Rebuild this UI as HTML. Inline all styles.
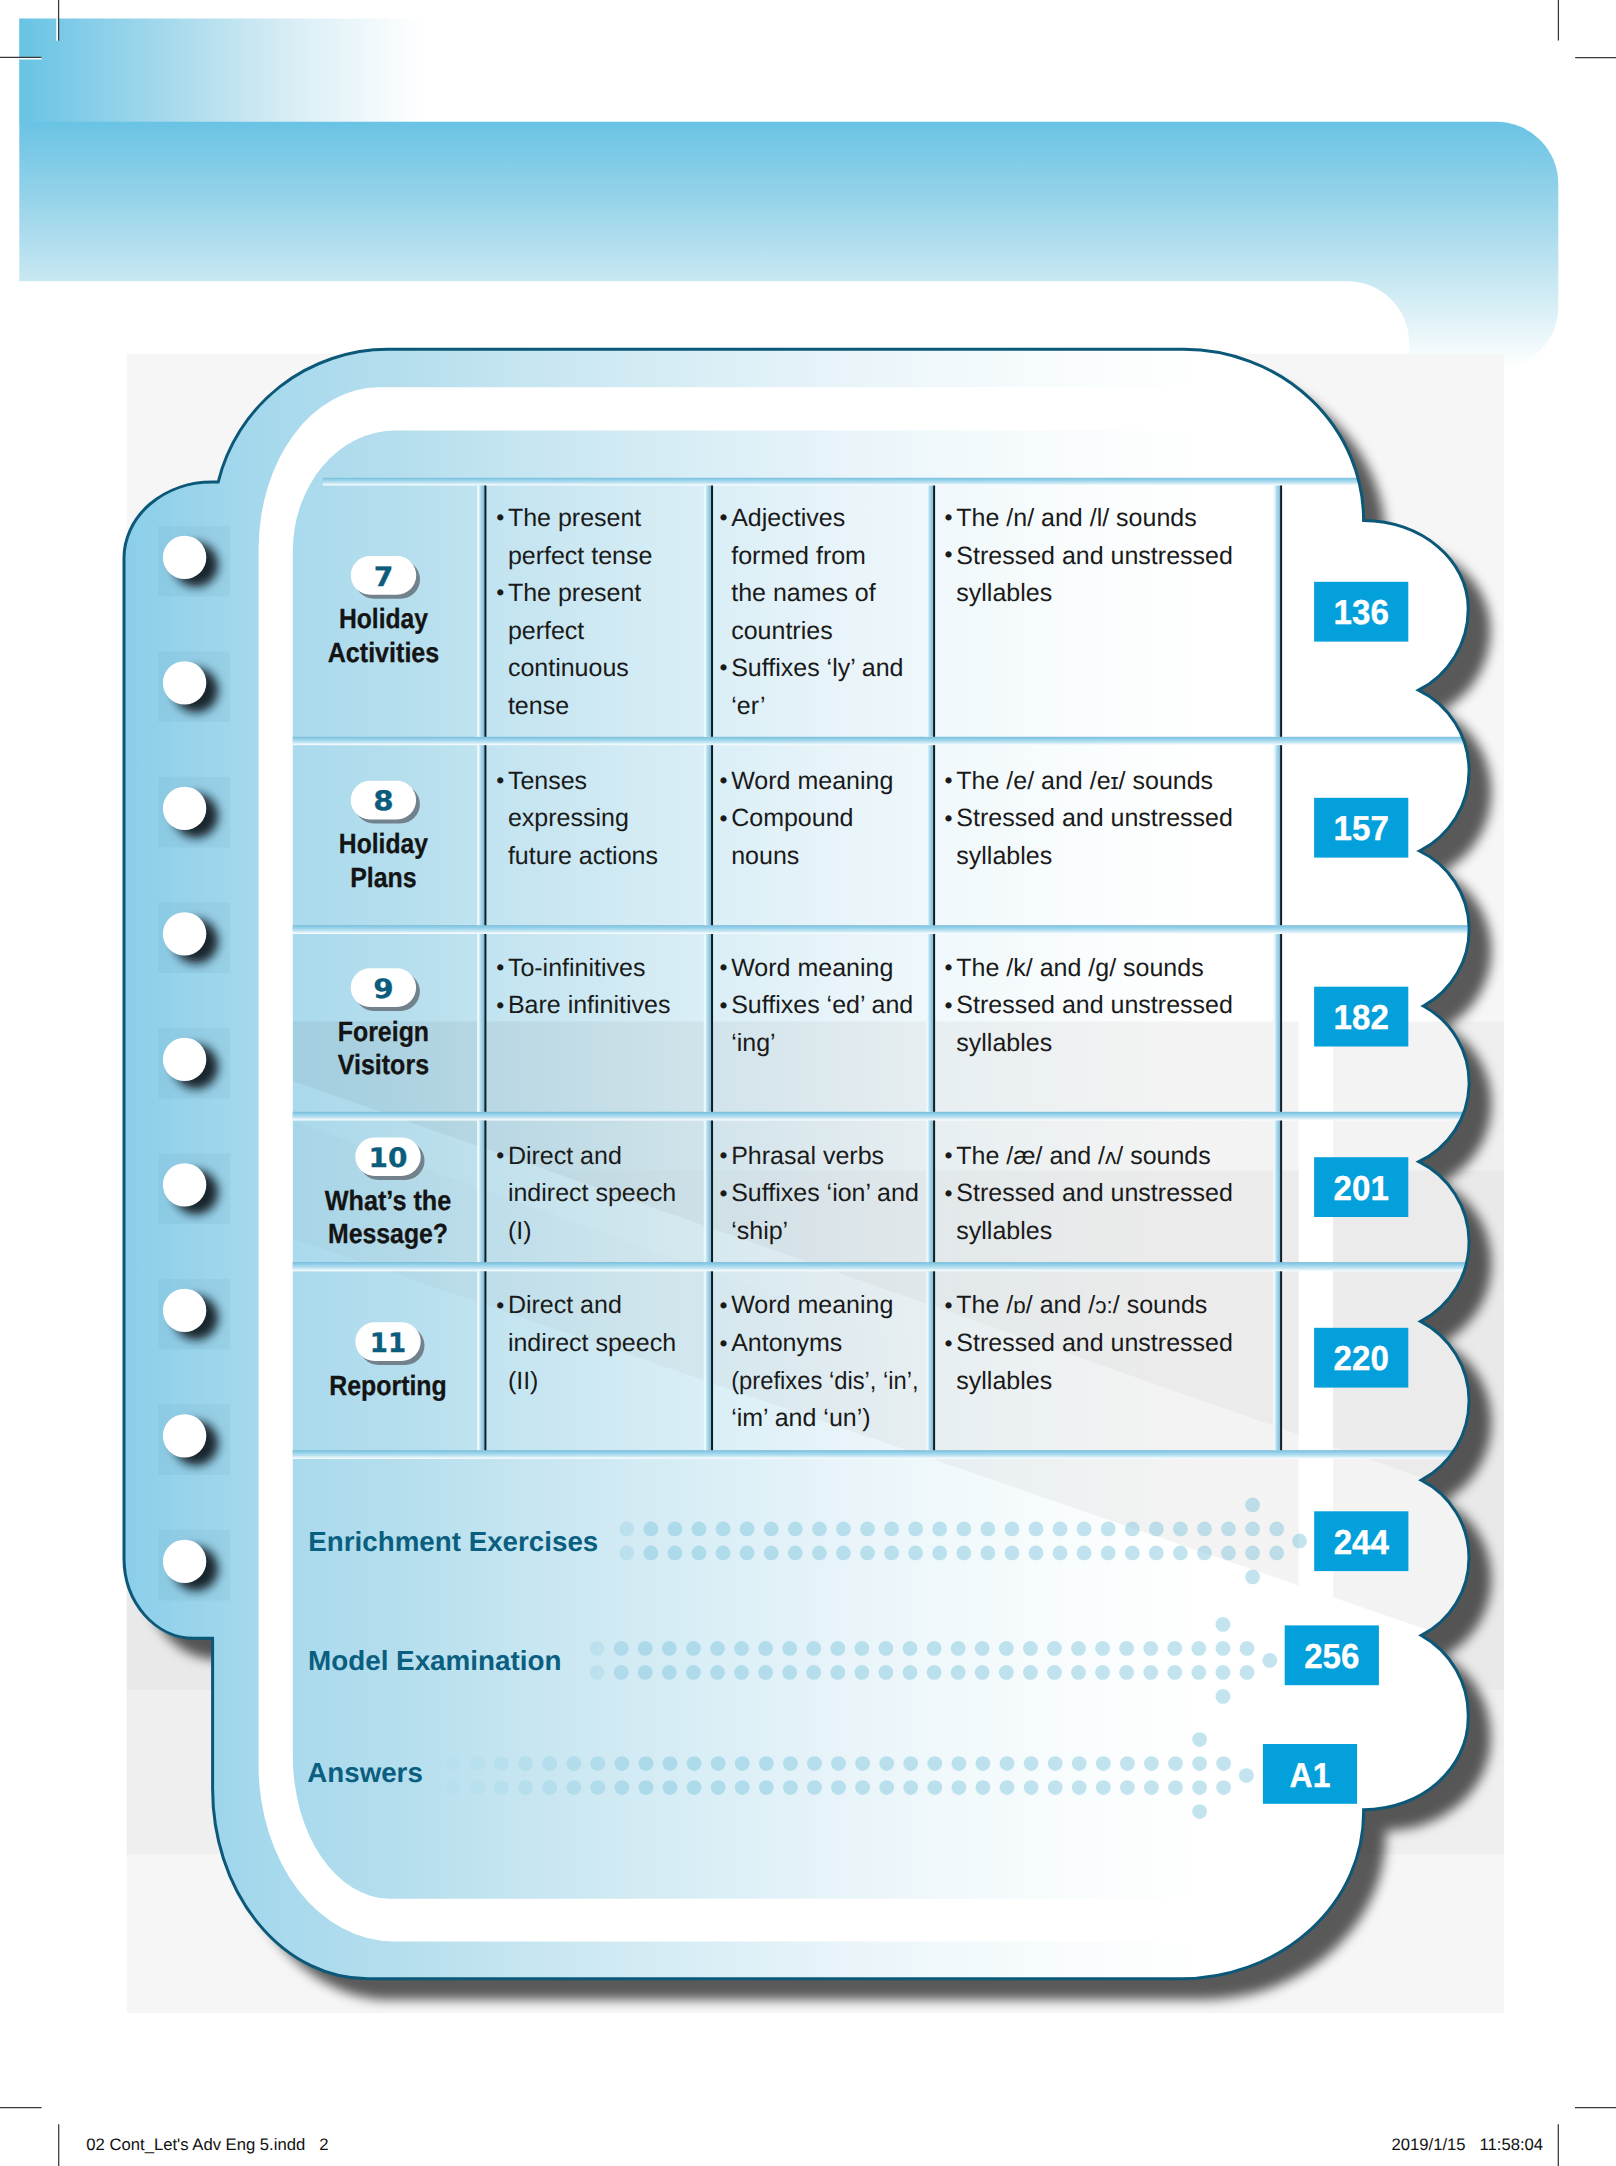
<!DOCTYPE html>
<html lang="en"><head><meta charset="utf-8"><title>Contents</title>
<style>
html,body{margin:0;padding:0;background:#fff;}
body{width:1616px;height:2166px;overflow:hidden;}
svg{display:block;}
text{font-family:"Liberation Sans",sans-serif;-webkit-font-smoothing:antialiased;text-rendering:geometricPrecision;}
.t{font-size:25px;fill:#1a1a1a;}
.b{font-weight:bold;}
.ttl{font-weight:bold;font-size:27.8px;fill:#141414;stroke:#141414;stroke-width:.3;text-anchor:middle;}
.num{font-family:"DejaVu Sans","Liberation Sans",sans-serif;font-weight:bold;font-size:26.8px;fill:#0b5c7d;stroke:#0b5c7d;stroke-width:.3;text-anchor:middle;}
.pg{font-weight:bold;font-size:34.6px;fill:#fff;stroke:#fff;stroke-width:.35;text-anchor:middle;}
.sec{font-weight:bold;font-size:27.7px;fill:#0a5f80;}
.ft{font-size:16.67px;fill:#111;white-space:pre;}
.ipa{font-size:22.5px;}
.bu{font-size:22.8px;fill:#1a1a1a;}
</style></head><body>
<svg width="1616" height="2166" viewBox="0 0 1616 2166">
<defs>
<linearGradient id="gTop" x1="0" y1="0" x2="1" y2="0"><stop offset="0" stop-color="#68c3e4"/><stop offset=".35" stop-color="#a3d8ec"/><stop offset=".7" stop-color="#dceff6"/><stop offset="1" stop-color="#ffffff"/></linearGradient>
<linearGradient id="gBan" x1="0" y1="0" x2="0" y2="1"><stop offset="0" stop-color="#69c3e4"/><stop offset=".33" stop-color="#99d4ea"/><stop offset=".645" stop-color="#c8e8f2"/><stop offset="1" stop-color="#ffffff"/></linearGradient>
<linearGradient id="gBody" gradientUnits="userSpaceOnUse" x1="124" y1="0" x2="1200" y2="0">
<stop offset="0.0000" stop-color="#8bceea"/><stop offset="0.1171" stop-color="#a4d8ec"/><stop offset="0.1636" stop-color="#aadaed"/><stop offset="0.2565" stop-color="#b5deed"/><stop offset="0.3309" stop-color="#c0e3f0"/><stop offset="0.4610" stop-color="#d1eaf3"/><stop offset="0.5353" stop-color="#d9eef6"/><stop offset="0.6654" stop-color="#e8f4f9"/><stop offset="0.7491" stop-color="#eff8fb"/><stop offset="0.8699" stop-color="#f8fcfd"/><stop offset="1.0000" stop-color="#ffffff"/></linearGradient>
<linearGradient id="gH" x1="0" y1="0" x2="0" y2="1"><stop offset="0" stop-color="#79b8d6"/><stop offset=".12" stop-color="#84c6e2"/><stop offset=".22" stop-color="#8ccde7"/><stop offset=".6" stop-color="#b9e1f1"/><stop offset="1" stop-color="#ffffff"/></linearGradient>
<linearGradient id="gV" x1="0" y1="0" x2="1" y2="0"><stop offset="0" stop-color="#eaf8fd" stop-opacity="0"/><stop offset=".1" stop-color="#eaf8fd" stop-opacity=".95"/><stop offset=".32" stop-color="#eaf8fd" stop-opacity=".95"/><stop offset=".42" stop-color="#bfe3f1"/><stop offset="1" stop-color="#7dbbd8"/></linearGradient>
<filter id="sh" x="-10%" y="-10%" width="125%" height="125%"><feGaussianBlur stdDeviation="5.6"/></filter>
<filter id="sh2" x="-50%" y="-50%" width="220%" height="220%"><feGaussianBlur stdDeviation="4.8"/></filter>
<clipPath id="cBody"><path d="M387.6,349.3 L1183.6,349.3 A180,171.2 0 0 1 1363.6,520.5 L1363.6,520.5 C1421.37058,520.5 1468.2,559.8976 1468.2,608.5 A91,91 0 0 1 1418.5,690.2 A89.6,89.6 0 0 1 1419.5,851.0 A86.9,86.9 0 0 1 1423.4,1006.0 A87.2,87.2 0 0 1 1418.8,1161.7 A89.3,89.3 0 0 1 1420.6,1321.4 A89.6,89.6 0 0 1 1421.3,1480.2 A87.0,87.0 0 0 1 1421.3,1635.4 A91,91 0 0 1 1468.2,1717.7 C1468.2,1768.5116 1421.37058,1809.7 1363.6,1809.7 L1363.6,1812.8 A183,166 0 0 1 1180.6,1978.8 L367.6,1978.8 A155,190 0 0 1 212.6,1788.8 L212.6,1638.3 L194,1638.3 A70,80 0 0 1 124.0,1558.3 L124.0,558 A88,76 0 0 1 212.0,482 L218.2,482 A175,174 0 0 1 387.6,349.3 Z"/></clipPath>
<clipPath id="cPanel"><rect x="126.5" y="353.5" width="1377.5" height="1660"/></clipPath>
<clipPath id="cInner"><path d="M395.8,430.4 L1195.6,430.4 A103,121 0 0 1 1298.6,551.4 L1298.6,1755.7 A97,143 0 0 1 1201.6,1898.7 L389.8,1898.7 A97,143 0 0 1 292.8,1755.7 L292.8,551.4 A103,121 0 0 1 395.8,430.4 Z"/></clipPath>
<clipPath id="cMain"><path d="M387.6,349.3 L1183.6,349.3 A180,171.2 0 0 1 1363.6,520.5 L1480,520.5 L1480,1812.8 L1363.6,1812.8 A183,166 0 0 1 1180.6,1978.8 L367.6,1978.8 A155,190 0 0 1 212.6,1788.8 L212.6,523.3 A175,174 0 0 1 387.6,349.3 Z"/></clipPath>
<linearGradient id="gOv" gradientUnits="userSpaceOnUse" x1="292" y1="0" x2="1290" y2="0">
<stop offset="0" stop-color="#a8a6a5" stop-opacity=".15"/><stop offset=".19" stop-color="#a8a6a5" stop-opacity=".32"/><stop offset=".41" stop-color="#a8a6a5" stop-opacity=".6"/><stop offset=".64" stop-color="#a8a6a5" stop-opacity=".85"/><stop offset=".81" stop-color="#a8a6a5" stop-opacity=".96"/><stop offset="1" stop-color="#a8a6a5" stop-opacity="1"/></linearGradient>
<linearGradient id="gOvL" gradientUnits="userSpaceOnUse" x1="292" y1="0" x2="950" y2="0"><stop offset="0" stop-color="#6f8590" stop-opacity="1"/><stop offset=".29" stop-color="#6f8590" stop-opacity=".8"/><stop offset=".62" stop-color="#6f8590" stop-opacity=".4"/><stop offset="1" stop-color="#6f8590" stop-opacity="0"/></linearGradient>
<clipPath id="cRight"><rect x="292.6" y="300" width="1300" height="1800"/></clipPath>
<linearGradient id="gDot" gradientUnits="objectBoundingBox" x1="0" y1="0" x2="1" y2="0"><stop offset="0" stop-color="#fff" stop-opacity="0"/><stop offset="1" stop-color="#fff" stop-opacity="1"/></linearGradient>
</defs>

<rect x="19.2" y="18.5" width="404" height="103.5" fill="url(#gTop)"/>
<path d="M19.3,121.8 L1496.3,121.8 A62,62 0 0 1 1558.3,183.8 L1558.3,307 A62,62 0 0 1 1496.3,369 L19.3,369 Z" fill="url(#gBan)"/>
<path d="M0,281.2 L1347,281.2 A62,62 0 0 1 1409.2,343.2 L1409.2,372 L0,372 Z" fill="#fff"/>
<g stroke="#fff" stroke-width="2.6" fill="none"><path d="M57.6,18.5V40.8M19.2,58.2H41.6"/></g>
<g stroke="#383838" stroke-width="1.25" fill="none"><path d="M58.6,0V40.8M0,57.3H41.6M1558.4,0V40.5M1575.2,57.5H1616M0,2107.5H41.6M58.7,2124.3V2166M1558.3,2124.3V2166M1575,2107.5H1616"/></g>
<g clip-path="url(#cPanel)">
<rect x="126.5" y="353.5" width="1377.5" height="1660" fill="#f6f6f6"/>
<rect x="126.5" y="1021.5" width="1377.5" height="149" fill="#efefef"/>
<rect x="126.5" y="1170.5" width="1377.5" height="520" fill="#e9e9e9"/>
<rect x="126.5" y="1690.5" width="1377.5" height="164" fill="#efefef"/>
</g>
<g clip-path="url(#cPanel)"><path d="M387.6,349.3 L1183.6,349.3 A180,171.2 0 0 1 1363.6,520.5 L1363.6,520.5 C1421.37058,520.5 1468.2,559.8976 1468.2,608.5 A91,91 0 0 1 1418.5,690.2 A89.6,89.6 0 0 1 1419.5,851.0 A86.9,86.9 0 0 1 1423.4,1006.0 A87.2,87.2 0 0 1 1418.8,1161.7 A89.3,89.3 0 0 1 1420.6,1321.4 A89.6,89.6 0 0 1 1421.3,1480.2 A87.0,87.0 0 0 1 1421.3,1635.4 A91,91 0 0 1 1468.2,1717.7 C1468.2,1768.5116 1421.37058,1809.7 1363.6,1809.7 L1363.6,1812.8 A183,166 0 0 1 1180.6,1978.8 L367.6,1978.8 A155,190 0 0 1 212.6,1788.8 L212.6,1638.3 L194,1638.3 A70,80 0 0 1 124.0,1558.3 L124.0,558 A88,76 0 0 1 212.0,482 L218.2,482 A175,174 0 0 1 387.6,349.3 Z" transform="translate(22.3,21)" fill="#050304" fill-opacity=".64" filter="url(#sh)"/></g>
<path d="M387.6,349.3 L1183.6,349.3 A180,171.2 0 0 1 1363.6,520.5 L1363.6,520.5 C1421.37058,520.5 1468.2,559.8976 1468.2,608.5 A91,91 0 0 1 1418.5,690.2 A89.6,89.6 0 0 1 1419.5,851.0 A86.9,86.9 0 0 1 1423.4,1006.0 A87.2,87.2 0 0 1 1418.8,1161.7 A89.3,89.3 0 0 1 1420.6,1321.4 A89.6,89.6 0 0 1 1421.3,1480.2 A87.0,87.0 0 0 1 1421.3,1635.4 A91,91 0 0 1 1468.2,1717.7 C1468.2,1768.5116 1421.37058,1809.7 1363.6,1809.7 L1363.6,1812.8 A183,166 0 0 1 1180.6,1978.8 L367.6,1978.8 A155,190 0 0 1 212.6,1788.8 L212.6,1638.3 L194,1638.3 A70,80 0 0 1 124.0,1558.3 L124.0,558 A88,76 0 0 1 212.0,482 L218.2,482 A175,174 0 0 1 387.6,349.3 Z" fill="url(#gBody)"/>
<g clip-path="url(#cBody)"><g clip-path="url(#cRight)">
<polygon points="120,1021.5 1520,1021.5 1520,1661.8 120,1178.8" fill="url(#gOv)" fill-opacity=".135"/>
<polygon points="547.4,1170.5 1520,1170.5 1520,1512.5" fill="url(#gOv)" fill-opacity=".10"/>
<polygon points="120,1021.5 1000,1021.5 1000,1329.6 120,1020.2" fill="url(#gOvL)" fill-opacity=".13"/>
<polygon points="120,1058.6 1000,1375.4 1000,1482.4 120,1178.8" fill="url(#gOvL)" fill-opacity=".045"/>
</g></g>
<path d="M378.6,387.3 L1213.1,387.3 A120,162 0 0 1 1333.1,549.3 L1333.1,1765.5 A135,176 0 0 1 1198.1,1941.5 L393.6,1941.5 A135,176 0 0 1 258.6,1765.5 L258.6,549.3 A120,162 0 0 1 378.6,387.3 Z M395.8,430.4 L1195.6,430.4 A103,121 0 0 1 1298.6,551.4 L1298.6,1755.7 A97,143 0 0 1 1201.6,1898.7 L389.8,1898.7 A97,143 0 0 1 292.8,1755.7 L292.8,551.4 A103,121 0 0 1 395.8,430.4 Z" fill="#fff" fill-rule="evenodd"/>
<rect x="158.6" y="525.9" width="71.2" height="70.6" fill="#1a4a6a" fill-opacity=".05"/>
<circle cx="195.9" cy="564.7" r="22.3" fill="#10181e" fill-opacity=".92" filter="url(#sh2)"/>
<circle cx="184.6" cy="557.4" r="21.7" fill="#fff"/>
<rect x="158.6" y="651.4" width="71.2" height="70.6" fill="#1a4a6a" fill-opacity=".05"/>
<circle cx="195.9" cy="690.2" r="22.3" fill="#10181e" fill-opacity=".92" filter="url(#sh2)"/>
<circle cx="184.6" cy="682.9" r="21.7" fill="#fff"/>
<rect x="158.6" y="776.9" width="71.2" height="70.6" fill="#1a4a6a" fill-opacity=".05"/>
<circle cx="195.9" cy="815.7" r="22.3" fill="#10181e" fill-opacity=".92" filter="url(#sh2)"/>
<circle cx="184.6" cy="808.4" r="21.7" fill="#fff"/>
<rect x="158.6" y="902.4" width="71.2" height="70.6" fill="#1a4a6a" fill-opacity=".05"/>
<circle cx="195.9" cy="941.2" r="22.3" fill="#10181e" fill-opacity=".92" filter="url(#sh2)"/>
<circle cx="184.6" cy="933.9" r="21.7" fill="#fff"/>
<rect x="158.6" y="1027.9" width="71.2" height="70.6" fill="#1a4a6a" fill-opacity=".05"/>
<circle cx="195.9" cy="1066.7" r="22.3" fill="#10181e" fill-opacity=".92" filter="url(#sh2)"/>
<circle cx="184.6" cy="1059.4" r="21.7" fill="#fff"/>
<rect x="158.6" y="1153.4" width="71.2" height="70.6" fill="#1a4a6a" fill-opacity=".05"/>
<circle cx="195.9" cy="1192.2" r="22.3" fill="#10181e" fill-opacity=".92" filter="url(#sh2)"/>
<circle cx="184.6" cy="1184.9" r="21.7" fill="#fff"/>
<rect x="158.6" y="1278.9" width="71.2" height="70.6" fill="#1a4a6a" fill-opacity=".05"/>
<circle cx="195.9" cy="1317.7" r="22.3" fill="#10181e" fill-opacity=".92" filter="url(#sh2)"/>
<circle cx="184.6" cy="1310.4" r="21.7" fill="#fff"/>
<rect x="158.6" y="1404.4" width="71.2" height="70.6" fill="#1a4a6a" fill-opacity=".05"/>
<circle cx="195.9" cy="1443.2" r="22.3" fill="#10181e" fill-opacity=".92" filter="url(#sh2)"/>
<circle cx="184.6" cy="1435.9" r="21.7" fill="#fff"/>
<rect x="158.6" y="1529.9" width="71.2" height="70.6" fill="#1a4a6a" fill-opacity=".05"/>
<circle cx="195.9" cy="1568.7" r="22.3" fill="#10181e" fill-opacity=".92" filter="url(#sh2)"/>
<circle cx="184.6" cy="1561.4" r="21.7" fill="#fff"/>
<g clip-path="url(#cBody)">
<rect x="322.8" y="477.8" width="1177.2" height="7.7" fill="url(#gH)"/>
<rect x="292.6" y="736.8" width="1207.4" height="8.4" fill="url(#gH)"/>
<rect x="292.6" y="925.2" width="1207.4" height="8.8" fill="url(#gH)"/>
<rect x="292.6" y="1111.8" width="1207.4" height="8.7" fill="url(#gH)"/>
<rect x="292.6" y="1262.1" width="1207.4" height="9.2" fill="url(#gH)"/>
<rect x="292.6" y="1450.2" width="1207.4" height="8.7" fill="url(#gH)"/>
</g>
<rect x="476.6" y="485.5" width="7.8" height="251.3" fill="url(#gV)"/>
<rect x="484.40" y="485.5" width="2.0" height="251.3" fill="#0e1c25"/>
<rect x="703.3" y="485.5" width="7.8" height="251.3" fill="url(#gV)"/>
<rect x="711.05" y="485.5" width="2.0" height="251.3" fill="#0e1c25"/>
<rect x="925.6" y="485.5" width="7.6" height="251.3" fill="url(#gV)"/>
<rect x="933.10" y="485.5" width="2.0" height="251.3" fill="#0e1c25"/>
<rect x="1272.5" y="485.5" width="7.7" height="251.3" fill="url(#gV)"/>
<rect x="1280.10" y="485.5" width="2.0" height="251.3" fill="#0e1c25"/>
<rect x="476.6" y="745.2" width="7.8" height="180.0" fill="url(#gV)"/>
<rect x="484.40" y="745.2" width="2.0" height="180.0" fill="#0e1c25"/>
<rect x="703.3" y="745.2" width="7.8" height="180.0" fill="url(#gV)"/>
<rect x="711.05" y="745.2" width="2.0" height="180.0" fill="#0e1c25"/>
<rect x="925.6" y="745.2" width="7.6" height="180.0" fill="url(#gV)"/>
<rect x="933.10" y="745.2" width="2.0" height="180.0" fill="#0e1c25"/>
<rect x="1272.5" y="745.2" width="7.7" height="180.0" fill="url(#gV)"/>
<rect x="1280.10" y="745.2" width="2.0" height="180.0" fill="#0e1c25"/>
<rect x="476.6" y="934.0" width="7.8" height="177.8" fill="url(#gV)"/>
<rect x="484.40" y="934.0" width="2.0" height="177.8" fill="#0e1c25"/>
<rect x="703.3" y="934.0" width="7.8" height="177.8" fill="url(#gV)"/>
<rect x="711.05" y="934.0" width="2.0" height="177.8" fill="#0e1c25"/>
<rect x="925.6" y="934.0" width="7.6" height="177.8" fill="url(#gV)"/>
<rect x="933.10" y="934.0" width="2.0" height="177.8" fill="#0e1c25"/>
<rect x="1272.5" y="934.0" width="7.7" height="177.8" fill="url(#gV)"/>
<rect x="1280.10" y="934.0" width="2.0" height="177.8" fill="#0e1c25"/>
<rect x="476.6" y="1120.5" width="7.8" height="141.6" fill="url(#gV)"/>
<rect x="484.40" y="1120.5" width="2.0" height="141.6" fill="#0e1c25"/>
<rect x="703.3" y="1120.5" width="7.8" height="141.6" fill="url(#gV)"/>
<rect x="711.05" y="1120.5" width="2.0" height="141.6" fill="#0e1c25"/>
<rect x="925.6" y="1120.5" width="7.6" height="141.6" fill="url(#gV)"/>
<rect x="933.10" y="1120.5" width="2.0" height="141.6" fill="#0e1c25"/>
<rect x="1272.5" y="1120.5" width="7.7" height="141.6" fill="url(#gV)"/>
<rect x="1280.10" y="1120.5" width="2.0" height="141.6" fill="#0e1c25"/>
<rect x="476.6" y="1271.3" width="7.8" height="178.9" fill="url(#gV)"/>
<rect x="484.40" y="1271.3" width="2.0" height="178.9" fill="#0e1c25"/>
<rect x="703.3" y="1271.3" width="7.8" height="178.9" fill="url(#gV)"/>
<rect x="711.05" y="1271.3" width="2.0" height="178.9" fill="#0e1c25"/>
<rect x="925.6" y="1271.3" width="7.6" height="178.9" fill="url(#gV)"/>
<rect x="933.10" y="1271.3" width="2.0" height="178.9" fill="#0e1c25"/>
<rect x="1272.5" y="1271.3" width="7.7" height="178.9" fill="url(#gV)"/>
<rect x="1280.10" y="1271.3" width="2.0" height="178.9" fill="#0e1c25"/>
<rect x="354.6" y="560.1" width="65.4" height="38.6" rx="19.3" fill="#72828c"/>
<rect x="350.8" y="556.1" width="65.4" height="38.6" rx="19.3" fill="#fff"/>
<text class="num" x="383.5" y="585.5" textLength="19.6" lengthAdjust="spacingAndGlyphs">7</text>
<text class="ttl" x="383.5" y="627.8" textLength="89.1" lengthAdjust="spacingAndGlyphs">Holiday</text>
<text class="ttl" x="383.5" y="662.0" textLength="111.5" lengthAdjust="spacingAndGlyphs">Activities</text>
<rect x="354.5" y="784.8" width="65.4" height="38.6" rx="19.3" fill="#72828c"/>
<rect x="350.7" y="780.8" width="65.4" height="38.6" rx="19.3" fill="#fff"/>
<text class="num" x="383.4" y="810.2" textLength="20.4" lengthAdjust="spacingAndGlyphs">8</text>
<text class="ttl" x="383.4" y="853.4" textLength="89.1" lengthAdjust="spacingAndGlyphs">Holiday</text>
<text class="ttl" x="383.4" y="886.8" textLength="66.5" lengthAdjust="spacingAndGlyphs">Plans</text>
<rect x="354.5" y="972.3" width="65.4" height="38.6" rx="19.3" fill="#72828c"/>
<rect x="350.7" y="968.3" width="65.4" height="38.6" rx="19.3" fill="#fff"/>
<text class="num" x="383.4" y="997.7" textLength="20.4" lengthAdjust="spacingAndGlyphs">9</text>
<text class="ttl" x="383.4" y="1041.0" textLength="91.3" lengthAdjust="spacingAndGlyphs">Foreign</text>
<text class="ttl" x="383.4" y="1073.7" textLength="91.3" lengthAdjust="spacingAndGlyphs">Visitors</text>
<rect x="359.1" y="1141.4" width="65.4" height="38.6" rx="19.3" fill="#72828c"/>
<rect x="355.3" y="1137.4" width="65.4" height="38.6" rx="19.3" fill="#fff"/>
<text class="num" x="388.0" y="1166.8" textLength="38.9" lengthAdjust="spacingAndGlyphs">10</text>
<text class="ttl" x="388.0" y="1209.7" textLength="126.5" lengthAdjust="spacingAndGlyphs">What’s the</text>
<text class="ttl" x="388.0" y="1243.1" textLength="120.1" lengthAdjust="spacingAndGlyphs">Message?</text>
<rect x="359.1" y="1326.3" width="65.4" height="38.6" rx="19.3" fill="#72828c"/>
<rect x="355.3" y="1322.3" width="65.4" height="38.6" rx="19.3" fill="#fff"/>
<text class="num" x="388.0" y="1351.7" textLength="36.3" lengthAdjust="spacingAndGlyphs">11</text>
<text class="ttl" x="388.0" y="1395.4" textLength="117.5" lengthAdjust="spacingAndGlyphs">Reporting</text>
<text class="bu" x="496.3" y="524.8">•</text>
<text class="t" x="507.9" y="526.2">The present</text>
<text class="t" x="507.9" y="563.8">perfect tense</text>
<text class="bu" x="496.3" y="599.9">•</text>
<text class="t" x="507.9" y="601.3">The present</text>
<text class="t" x="507.9" y="638.9">perfect</text>
<text class="t" x="507.9" y="676.4">continuous</text>
<text class="t" x="507.9" y="714.0">tense</text>
<text class="bu" x="719.5999999999999" y="524.8">•</text>
<text class="t" x="731.2" y="526.2">Adjectives</text>
<text class="t" x="731.2" y="563.8">formed from</text>
<text class="t" x="731.2" y="601.3">the names of</text>
<text class="t" x="731.2" y="638.9">countries</text>
<text class="bu" x="719.5999999999999" y="675.0">•</text>
<text class="t" x="731.2" y="676.4">Suffixes ‘ly’ and</text>
<text class="t" x="731.2" y="714.0">‘er’</text>
<text class="bu" x="944.5" y="524.8">•</text>
<text class="t" x="956.3" y="526.2">The /n/ and /l/ sounds</text>
<text class="bu" x="944.5" y="562.4">•</text>
<text class="t" x="956.3" y="563.8">Stressed and unstressed</text>
<text class="t" x="956.3" y="601.3">syllables</text>
<text class="bu" x="496.3" y="788.0">•</text>
<text class="t" x="507.9" y="788.5">Tenses</text>
<text class="t" x="507.9" y="826.0">expressing</text>
<text class="t" x="507.9" y="863.6">future actions</text>
<text class="bu" x="719.5999999999999" y="788.0">•</text>
<text class="t" x="731.2" y="788.5">Word meaning</text>
<text class="bu" x="719.5999999999999" y="825.5">•</text>
<text class="t" x="731.2" y="826.0">Compound</text>
<text class="t" x="731.2" y="863.6">nouns</text>
<text class="bu" x="944.5" y="788.0">•</text>
<text class="t" x="956.3" y="788.5">The /e/ and /e<tspan class="ipa">ɪ</tspan>/ sounds</text>
<text class="bu" x="944.5" y="825.5">•</text>
<text class="t" x="956.3" y="826.0">Stressed and unstressed</text>
<text class="t" x="956.3" y="863.6">syllables</text>
<text class="bu" x="496.3" y="975.1">•</text>
<text class="t" x="507.9" y="975.6">To-infinitives</text>
<text class="bu" x="496.3" y="1012.6">•</text>
<text class="t" x="507.9" y="1013.1">Bare infinitives</text>
<text class="bu" x="719.5999999999999" y="975.1">•</text>
<text class="t" x="731.2" y="975.6">Word meaning</text>
<text class="bu" x="719.5999999999999" y="1012.6">•</text>
<text class="t" x="731.2" y="1013.1">Suffixes ‘ed’ and</text>
<text class="t" x="731.2" y="1050.7">‘ing’</text>
<text class="bu" x="944.5" y="975.1">•</text>
<text class="t" x="956.3" y="975.6">The /k/ and /g/ sounds</text>
<text class="bu" x="944.5" y="1012.6">•</text>
<text class="t" x="956.3" y="1013.1">Stressed and unstressed</text>
<text class="t" x="956.3" y="1050.7">syllables</text>
<text class="bu" x="496.3" y="1163.1">•</text>
<text class="t" x="507.9" y="1163.6">Direct and</text>
<text class="t" x="507.9" y="1201.1">indirect speech</text>
<text class="t" x="507.9" y="1238.7">(I)</text>
<text class="bu" x="719.5999999999999" y="1163.1">•</text>
<text class="t" x="731.2" y="1163.6">Phrasal verbs</text>
<text class="bu" x="719.5999999999999" y="1200.6">•</text>
<text class="t" x="731.2" y="1201.1">Suffixes ‘ion’ and</text>
<text class="t" x="731.2" y="1238.7">‘ship’</text>
<text class="bu" x="944.5" y="1163.1">•</text>
<text class="t" x="956.3" y="1163.6">The /æ/ and /<tspan class="ipa">ʌ</tspan>/ sounds</text>
<text class="bu" x="944.5" y="1200.6">•</text>
<text class="t" x="956.3" y="1201.1">Stressed and unstressed</text>
<text class="t" x="956.3" y="1238.7">syllables</text>
<text class="bu" x="496.3" y="1312.9">•</text>
<text class="t" x="507.9" y="1313.4">Direct and</text>
<text class="t" x="507.9" y="1351.0">indirect speech</text>
<text class="t" x="507.9" y="1388.5">(II)</text>
<text class="bu" x="719.5999999999999" y="1312.9">•</text>
<text class="t" x="731.2" y="1313.4">Word meaning</text>
<text class="bu" x="719.5999999999999" y="1350.5">•</text>
<text class="t" x="731.2" y="1351.0">Antonyms</text>
<text class="t" x="731.2" y="1388.5" textLength="187.5" lengthAdjust="spacingAndGlyphs">(prefixes ‘dis’, ‘in’,</text>
<text class="t" x="731.2" y="1426.1">‘im’ and ‘un’)</text>
<text class="bu" x="944.5" y="1312.9">•</text>
<text class="t" x="956.3" y="1313.4">The /<tspan class="ipa">ɒ</tspan>/ and /<tspan class="ipa">ɔ:</tspan>/ sounds</text>
<text class="bu" x="944.5" y="1350.5">•</text>
<text class="t" x="956.3" y="1351.0">Stressed and unstressed</text>
<text class="t" x="956.3" y="1388.5">syllables</text>
<rect x="1314.1" y="581.8" width="94.2" height="59.8" fill="#04a0db"/>
<text class="pg" x="1361.2" y="624.3" textLength="55.2" lengthAdjust="spacingAndGlyphs">136</text>
<rect x="1314.1" y="797.8" width="94.2" height="59.8" fill="#04a0db"/>
<text class="pg" x="1361.2" y="840.3" textLength="55.2" lengthAdjust="spacingAndGlyphs">157</text>
<rect x="1314.1" y="986.7" width="94.2" height="59.8" fill="#04a0db"/>
<text class="pg" x="1361.2" y="1029.2" textLength="55.2" lengthAdjust="spacingAndGlyphs">182</text>
<rect x="1314.1" y="1157.2" width="94.2" height="59.8" fill="#04a0db"/>
<text class="pg" x="1361.2" y="1199.7" textLength="55.2" lengthAdjust="spacingAndGlyphs">201</text>
<rect x="1314.1" y="1327.8" width="94.2" height="59.8" fill="#04a0db"/>
<text class="pg" x="1361.2" y="1370.3" textLength="55.2" lengthAdjust="spacingAndGlyphs">220</text>
<rect x="1314.2" y="1511.3" width="94.2" height="59.8" fill="#04a0db"/>
<text class="pg" x="1361.3" y="1553.8" textLength="55.2" lengthAdjust="spacingAndGlyphs">244</text>
<rect x="1284.7" y="1625.4" width="94.2" height="59.8" fill="#04a0db"/>
<text class="pg" x="1331.8" y="1667.9" textLength="55.2" lengthAdjust="spacingAndGlyphs">256</text>
<rect x="1262.9" y="1744.0" width="94.2" height="59.8" fill="#04a0db"/>
<text class="pg" x="1310.0" y="1786.5" textLength="40.8" lengthAdjust="spacingAndGlyphs">A1</text>
<text class="sec" x="308.3" y="1550.8" textLength="290" lengthAdjust="spacingAndGlyphs">Enrichment Exercises</text>
<text class="sec" x="308.0" y="1670.2" textLength="253.5" lengthAdjust="spacingAndGlyphs">Model Examination</text>
<text class="sec" x="307.3" y="1781.8" textLength="115.5" lengthAdjust="spacingAndGlyphs">Answers</text>
<circle cx="626.8" cy="1528.9" r="7.4" fill="#7cc4dd" fill-opacity="0.25"/>
<circle cx="626.8" cy="1552.9" r="7.4" fill="#7cc4dd" fill-opacity="0.25"/>
<circle cx="650.9" cy="1528.9" r="7.4" fill="#7cc4dd" fill-opacity="0.46"/>
<circle cx="650.9" cy="1552.9" r="7.4" fill="#7cc4dd" fill-opacity="0.46"/>
<circle cx="674.9" cy="1528.9" r="7.4" fill="#7cc4dd" fill-opacity="0.46"/>
<circle cx="674.9" cy="1552.9" r="7.4" fill="#7cc4dd" fill-opacity="0.46"/>
<circle cx="699.0" cy="1528.9" r="7.4" fill="#7cc4dd" fill-opacity="0.46"/>
<circle cx="699.0" cy="1552.9" r="7.4" fill="#7cc4dd" fill-opacity="0.46"/>
<circle cx="723.1" cy="1528.9" r="7.4" fill="#7cc4dd" fill-opacity="0.46"/>
<circle cx="723.1" cy="1552.9" r="7.4" fill="#7cc4dd" fill-opacity="0.46"/>
<circle cx="747.1" cy="1528.9" r="7.4" fill="#7cc4dd" fill-opacity="0.46"/>
<circle cx="747.1" cy="1552.9" r="7.4" fill="#7cc4dd" fill-opacity="0.46"/>
<circle cx="771.2" cy="1528.9" r="7.4" fill="#7cc4dd" fill-opacity="0.46"/>
<circle cx="771.2" cy="1552.9" r="7.4" fill="#7cc4dd" fill-opacity="0.46"/>
<circle cx="795.3" cy="1528.9" r="7.4" fill="#7cc4dd" fill-opacity="0.46"/>
<circle cx="795.3" cy="1552.9" r="7.4" fill="#7cc4dd" fill-opacity="0.46"/>
<circle cx="819.4" cy="1528.9" r="7.4" fill="#7cc4dd" fill-opacity="0.46"/>
<circle cx="819.4" cy="1552.9" r="7.4" fill="#7cc4dd" fill-opacity="0.46"/>
<circle cx="843.4" cy="1528.9" r="7.4" fill="#7cc4dd" fill-opacity="0.46"/>
<circle cx="843.4" cy="1552.9" r="7.4" fill="#7cc4dd" fill-opacity="0.46"/>
<circle cx="867.5" cy="1528.9" r="7.4" fill="#7cc4dd" fill-opacity="0.46"/>
<circle cx="867.5" cy="1552.9" r="7.4" fill="#7cc4dd" fill-opacity="0.46"/>
<circle cx="891.6" cy="1528.9" r="7.4" fill="#7cc4dd" fill-opacity="0.46"/>
<circle cx="891.6" cy="1552.9" r="7.4" fill="#7cc4dd" fill-opacity="0.46"/>
<circle cx="915.6" cy="1528.9" r="7.4" fill="#7cc4dd" fill-opacity="0.46"/>
<circle cx="915.6" cy="1552.9" r="7.4" fill="#7cc4dd" fill-opacity="0.46"/>
<circle cx="939.7" cy="1528.9" r="7.4" fill="#7cc4dd" fill-opacity="0.46"/>
<circle cx="939.7" cy="1552.9" r="7.4" fill="#7cc4dd" fill-opacity="0.46"/>
<circle cx="963.8" cy="1528.9" r="7.4" fill="#7cc4dd" fill-opacity="0.46"/>
<circle cx="963.8" cy="1552.9" r="7.4" fill="#7cc4dd" fill-opacity="0.46"/>
<circle cx="987.8" cy="1528.9" r="7.4" fill="#7cc4dd" fill-opacity="0.46"/>
<circle cx="987.8" cy="1552.9" r="7.4" fill="#7cc4dd" fill-opacity="0.46"/>
<circle cx="1011.9" cy="1528.9" r="7.4" fill="#7cc4dd" fill-opacity="0.46"/>
<circle cx="1011.9" cy="1552.9" r="7.4" fill="#7cc4dd" fill-opacity="0.46"/>
<circle cx="1036.0" cy="1528.9" r="7.4" fill="#7cc4dd" fill-opacity="0.46"/>
<circle cx="1036.0" cy="1552.9" r="7.4" fill="#7cc4dd" fill-opacity="0.46"/>
<circle cx="1060.1" cy="1528.9" r="7.4" fill="#7cc4dd" fill-opacity="0.46"/>
<circle cx="1060.1" cy="1552.9" r="7.4" fill="#7cc4dd" fill-opacity="0.46"/>
<circle cx="1084.1" cy="1528.9" r="7.4" fill="#7cc4dd" fill-opacity="0.46"/>
<circle cx="1084.1" cy="1552.9" r="7.4" fill="#7cc4dd" fill-opacity="0.46"/>
<circle cx="1108.2" cy="1528.9" r="7.4" fill="#7cc4dd" fill-opacity="0.46"/>
<circle cx="1108.2" cy="1552.9" r="7.4" fill="#7cc4dd" fill-opacity="0.46"/>
<circle cx="1132.3" cy="1528.9" r="7.4" fill="#7cc4dd" fill-opacity="0.46"/>
<circle cx="1132.3" cy="1552.9" r="7.4" fill="#7cc4dd" fill-opacity="0.46"/>
<circle cx="1156.3" cy="1528.9" r="7.4" fill="#7cc4dd" fill-opacity="0.46"/>
<circle cx="1156.3" cy="1552.9" r="7.4" fill="#7cc4dd" fill-opacity="0.46"/>
<circle cx="1180.4" cy="1528.9" r="7.4" fill="#7cc4dd" fill-opacity="0.46"/>
<circle cx="1180.4" cy="1552.9" r="7.4" fill="#7cc4dd" fill-opacity="0.46"/>
<circle cx="1204.5" cy="1528.9" r="7.4" fill="#7cc4dd" fill-opacity="0.46"/>
<circle cx="1204.5" cy="1552.9" r="7.4" fill="#7cc4dd" fill-opacity="0.46"/>
<circle cx="1228.5" cy="1528.9" r="7.4" fill="#7cc4dd" fill-opacity="0.46"/>
<circle cx="1228.5" cy="1552.9" r="7.4" fill="#7cc4dd" fill-opacity="0.46"/>
<circle cx="1252.6" cy="1528.9" r="7.4" fill="#7cc4dd" fill-opacity="0.46"/>
<circle cx="1252.6" cy="1552.9" r="7.4" fill="#7cc4dd" fill-opacity="0.46"/>
<circle cx="1276.7" cy="1528.9" r="7.4" fill="#7cc4dd" fill-opacity="0.46"/>
<circle cx="1276.7" cy="1552.9" r="7.4" fill="#7cc4dd" fill-opacity="0.46"/>
<circle cx="1252.6" cy="1504.9" r="7.4" fill="#7cc4dd" fill-opacity=".46"/>
<circle cx="1252.6" cy="1576.9" r="7.4" fill="#7cc4dd" fill-opacity=".46"/>
<circle cx="1299.5" cy="1540.9" r="7.4" fill="#7cc4dd" fill-opacity=".46"/>
<circle cx="597.1" cy="1648.4" r="7.4" fill="#7cc4dd" fill-opacity="0.21"/>
<circle cx="597.1" cy="1672.4" r="7.4" fill="#7cc4dd" fill-opacity="0.21"/>
<circle cx="621.2" cy="1648.4" r="7.4" fill="#7cc4dd" fill-opacity="0.40"/>
<circle cx="621.2" cy="1672.4" r="7.4" fill="#7cc4dd" fill-opacity="0.40"/>
<circle cx="645.2" cy="1648.4" r="7.4" fill="#7cc4dd" fill-opacity="0.46"/>
<circle cx="645.2" cy="1672.4" r="7.4" fill="#7cc4dd" fill-opacity="0.46"/>
<circle cx="669.3" cy="1648.4" r="7.4" fill="#7cc4dd" fill-opacity="0.46"/>
<circle cx="669.3" cy="1672.4" r="7.4" fill="#7cc4dd" fill-opacity="0.46"/>
<circle cx="693.4" cy="1648.4" r="7.4" fill="#7cc4dd" fill-opacity="0.46"/>
<circle cx="693.4" cy="1672.4" r="7.4" fill="#7cc4dd" fill-opacity="0.46"/>
<circle cx="717.5" cy="1648.4" r="7.4" fill="#7cc4dd" fill-opacity="0.46"/>
<circle cx="717.5" cy="1672.4" r="7.4" fill="#7cc4dd" fill-opacity="0.46"/>
<circle cx="741.5" cy="1648.4" r="7.4" fill="#7cc4dd" fill-opacity="0.46"/>
<circle cx="741.5" cy="1672.4" r="7.4" fill="#7cc4dd" fill-opacity="0.46"/>
<circle cx="765.6" cy="1648.4" r="7.4" fill="#7cc4dd" fill-opacity="0.46"/>
<circle cx="765.6" cy="1672.4" r="7.4" fill="#7cc4dd" fill-opacity="0.46"/>
<circle cx="789.7" cy="1648.4" r="7.4" fill="#7cc4dd" fill-opacity="0.46"/>
<circle cx="789.7" cy="1672.4" r="7.4" fill="#7cc4dd" fill-opacity="0.46"/>
<circle cx="813.7" cy="1648.4" r="7.4" fill="#7cc4dd" fill-opacity="0.46"/>
<circle cx="813.7" cy="1672.4" r="7.4" fill="#7cc4dd" fill-opacity="0.46"/>
<circle cx="837.8" cy="1648.4" r="7.4" fill="#7cc4dd" fill-opacity="0.46"/>
<circle cx="837.8" cy="1672.4" r="7.4" fill="#7cc4dd" fill-opacity="0.46"/>
<circle cx="861.9" cy="1648.4" r="7.4" fill="#7cc4dd" fill-opacity="0.46"/>
<circle cx="861.9" cy="1672.4" r="7.4" fill="#7cc4dd" fill-opacity="0.46"/>
<circle cx="885.9" cy="1648.4" r="7.4" fill="#7cc4dd" fill-opacity="0.46"/>
<circle cx="885.9" cy="1672.4" r="7.4" fill="#7cc4dd" fill-opacity="0.46"/>
<circle cx="910.0" cy="1648.4" r="7.4" fill="#7cc4dd" fill-opacity="0.46"/>
<circle cx="910.0" cy="1672.4" r="7.4" fill="#7cc4dd" fill-opacity="0.46"/>
<circle cx="934.1" cy="1648.4" r="7.4" fill="#7cc4dd" fill-opacity="0.46"/>
<circle cx="934.1" cy="1672.4" r="7.4" fill="#7cc4dd" fill-opacity="0.46"/>
<circle cx="958.2" cy="1648.4" r="7.4" fill="#7cc4dd" fill-opacity="0.46"/>
<circle cx="958.2" cy="1672.4" r="7.4" fill="#7cc4dd" fill-opacity="0.46"/>
<circle cx="982.2" cy="1648.4" r="7.4" fill="#7cc4dd" fill-opacity="0.46"/>
<circle cx="982.2" cy="1672.4" r="7.4" fill="#7cc4dd" fill-opacity="0.46"/>
<circle cx="1006.3" cy="1648.4" r="7.4" fill="#7cc4dd" fill-opacity="0.46"/>
<circle cx="1006.3" cy="1672.4" r="7.4" fill="#7cc4dd" fill-opacity="0.46"/>
<circle cx="1030.4" cy="1648.4" r="7.4" fill="#7cc4dd" fill-opacity="0.46"/>
<circle cx="1030.4" cy="1672.4" r="7.4" fill="#7cc4dd" fill-opacity="0.46"/>
<circle cx="1054.4" cy="1648.4" r="7.4" fill="#7cc4dd" fill-opacity="0.46"/>
<circle cx="1054.4" cy="1672.4" r="7.4" fill="#7cc4dd" fill-opacity="0.46"/>
<circle cx="1078.5" cy="1648.4" r="7.4" fill="#7cc4dd" fill-opacity="0.46"/>
<circle cx="1078.5" cy="1672.4" r="7.4" fill="#7cc4dd" fill-opacity="0.46"/>
<circle cx="1102.6" cy="1648.4" r="7.4" fill="#7cc4dd" fill-opacity="0.46"/>
<circle cx="1102.6" cy="1672.4" r="7.4" fill="#7cc4dd" fill-opacity="0.46"/>
<circle cx="1126.6" cy="1648.4" r="7.4" fill="#7cc4dd" fill-opacity="0.46"/>
<circle cx="1126.6" cy="1672.4" r="7.4" fill="#7cc4dd" fill-opacity="0.46"/>
<circle cx="1150.7" cy="1648.4" r="7.4" fill="#7cc4dd" fill-opacity="0.46"/>
<circle cx="1150.7" cy="1672.4" r="7.4" fill="#7cc4dd" fill-opacity="0.46"/>
<circle cx="1174.8" cy="1648.4" r="7.4" fill="#7cc4dd" fill-opacity="0.46"/>
<circle cx="1174.8" cy="1672.4" r="7.4" fill="#7cc4dd" fill-opacity="0.46"/>
<circle cx="1198.8" cy="1648.4" r="7.4" fill="#7cc4dd" fill-opacity="0.46"/>
<circle cx="1198.8" cy="1672.4" r="7.4" fill="#7cc4dd" fill-opacity="0.46"/>
<circle cx="1222.9" cy="1648.4" r="7.4" fill="#7cc4dd" fill-opacity="0.46"/>
<circle cx="1222.9" cy="1672.4" r="7.4" fill="#7cc4dd" fill-opacity="0.46"/>
<circle cx="1247.0" cy="1648.4" r="7.4" fill="#7cc4dd" fill-opacity="0.46"/>
<circle cx="1247.0" cy="1672.4" r="7.4" fill="#7cc4dd" fill-opacity="0.46"/>
<circle cx="1222.9" cy="1624.4" r="7.4" fill="#7cc4dd" fill-opacity=".46"/>
<circle cx="1222.9" cy="1696.4" r="7.4" fill="#7cc4dd" fill-opacity=".46"/>
<circle cx="1269.8" cy="1660.4" r="7.4" fill="#7cc4dd" fill-opacity=".46"/>
<circle cx="453.4" cy="1763.6" r="7.4" fill="#7cc4dd" fill-opacity="0.06"/>
<circle cx="453.4" cy="1787.6" r="7.4" fill="#7cc4dd" fill-opacity="0.06"/>
<circle cx="477.5" cy="1763.6" r="7.4" fill="#7cc4dd" fill-opacity="0.11"/>
<circle cx="477.5" cy="1787.6" r="7.4" fill="#7cc4dd" fill-opacity="0.11"/>
<circle cx="501.5" cy="1763.6" r="7.4" fill="#7cc4dd" fill-opacity="0.16"/>
<circle cx="501.5" cy="1787.6" r="7.4" fill="#7cc4dd" fill-opacity="0.16"/>
<circle cx="525.6" cy="1763.6" r="7.4" fill="#7cc4dd" fill-opacity="0.21"/>
<circle cx="525.6" cy="1787.6" r="7.4" fill="#7cc4dd" fill-opacity="0.21"/>
<circle cx="549.7" cy="1763.6" r="7.4" fill="#7cc4dd" fill-opacity="0.26"/>
<circle cx="549.7" cy="1787.6" r="7.4" fill="#7cc4dd" fill-opacity="0.26"/>
<circle cx="573.8" cy="1763.6" r="7.4" fill="#7cc4dd" fill-opacity="0.31"/>
<circle cx="573.8" cy="1787.6" r="7.4" fill="#7cc4dd" fill-opacity="0.31"/>
<circle cx="597.8" cy="1763.6" r="7.4" fill="#7cc4dd" fill-opacity="0.36"/>
<circle cx="597.8" cy="1787.6" r="7.4" fill="#7cc4dd" fill-opacity="0.36"/>
<circle cx="621.9" cy="1763.6" r="7.4" fill="#7cc4dd" fill-opacity="0.41"/>
<circle cx="621.9" cy="1787.6" r="7.4" fill="#7cc4dd" fill-opacity="0.41"/>
<circle cx="646.0" cy="1763.6" r="7.4" fill="#7cc4dd" fill-opacity="0.46"/>
<circle cx="646.0" cy="1787.6" r="7.4" fill="#7cc4dd" fill-opacity="0.46"/>
<circle cx="670.0" cy="1763.6" r="7.4" fill="#7cc4dd" fill-opacity="0.46"/>
<circle cx="670.0" cy="1787.6" r="7.4" fill="#7cc4dd" fill-opacity="0.46"/>
<circle cx="694.1" cy="1763.6" r="7.4" fill="#7cc4dd" fill-opacity="0.46"/>
<circle cx="694.1" cy="1787.6" r="7.4" fill="#7cc4dd" fill-opacity="0.46"/>
<circle cx="718.2" cy="1763.6" r="7.4" fill="#7cc4dd" fill-opacity="0.46"/>
<circle cx="718.2" cy="1787.6" r="7.4" fill="#7cc4dd" fill-opacity="0.46"/>
<circle cx="742.2" cy="1763.6" r="7.4" fill="#7cc4dd" fill-opacity="0.46"/>
<circle cx="742.2" cy="1787.6" r="7.4" fill="#7cc4dd" fill-opacity="0.46"/>
<circle cx="766.3" cy="1763.6" r="7.4" fill="#7cc4dd" fill-opacity="0.46"/>
<circle cx="766.3" cy="1787.6" r="7.4" fill="#7cc4dd" fill-opacity="0.46"/>
<circle cx="790.4" cy="1763.6" r="7.4" fill="#7cc4dd" fill-opacity="0.46"/>
<circle cx="790.4" cy="1787.6" r="7.4" fill="#7cc4dd" fill-opacity="0.46"/>
<circle cx="814.5" cy="1763.6" r="7.4" fill="#7cc4dd" fill-opacity="0.46"/>
<circle cx="814.5" cy="1787.6" r="7.4" fill="#7cc4dd" fill-opacity="0.46"/>
<circle cx="838.5" cy="1763.6" r="7.4" fill="#7cc4dd" fill-opacity="0.46"/>
<circle cx="838.5" cy="1787.6" r="7.4" fill="#7cc4dd" fill-opacity="0.46"/>
<circle cx="862.6" cy="1763.6" r="7.4" fill="#7cc4dd" fill-opacity="0.46"/>
<circle cx="862.6" cy="1787.6" r="7.4" fill="#7cc4dd" fill-opacity="0.46"/>
<circle cx="886.7" cy="1763.6" r="7.4" fill="#7cc4dd" fill-opacity="0.46"/>
<circle cx="886.7" cy="1787.6" r="7.4" fill="#7cc4dd" fill-opacity="0.46"/>
<circle cx="910.7" cy="1763.6" r="7.4" fill="#7cc4dd" fill-opacity="0.46"/>
<circle cx="910.7" cy="1787.6" r="7.4" fill="#7cc4dd" fill-opacity="0.46"/>
<circle cx="934.8" cy="1763.6" r="7.4" fill="#7cc4dd" fill-opacity="0.46"/>
<circle cx="934.8" cy="1787.6" r="7.4" fill="#7cc4dd" fill-opacity="0.46"/>
<circle cx="958.9" cy="1763.6" r="7.4" fill="#7cc4dd" fill-opacity="0.46"/>
<circle cx="958.9" cy="1787.6" r="7.4" fill="#7cc4dd" fill-opacity="0.46"/>
<circle cx="982.9" cy="1763.6" r="7.4" fill="#7cc4dd" fill-opacity="0.46"/>
<circle cx="982.9" cy="1787.6" r="7.4" fill="#7cc4dd" fill-opacity="0.46"/>
<circle cx="1007.0" cy="1763.6" r="7.4" fill="#7cc4dd" fill-opacity="0.46"/>
<circle cx="1007.0" cy="1787.6" r="7.4" fill="#7cc4dd" fill-opacity="0.46"/>
<circle cx="1031.1" cy="1763.6" r="7.4" fill="#7cc4dd" fill-opacity="0.46"/>
<circle cx="1031.1" cy="1787.6" r="7.4" fill="#7cc4dd" fill-opacity="0.46"/>
<circle cx="1055.2" cy="1763.6" r="7.4" fill="#7cc4dd" fill-opacity="0.46"/>
<circle cx="1055.2" cy="1787.6" r="7.4" fill="#7cc4dd" fill-opacity="0.46"/>
<circle cx="1079.2" cy="1763.6" r="7.4" fill="#7cc4dd" fill-opacity="0.46"/>
<circle cx="1079.2" cy="1787.6" r="7.4" fill="#7cc4dd" fill-opacity="0.46"/>
<circle cx="1103.3" cy="1763.6" r="7.4" fill="#7cc4dd" fill-opacity="0.46"/>
<circle cx="1103.3" cy="1787.6" r="7.4" fill="#7cc4dd" fill-opacity="0.46"/>
<circle cx="1127.4" cy="1763.6" r="7.4" fill="#7cc4dd" fill-opacity="0.46"/>
<circle cx="1127.4" cy="1787.6" r="7.4" fill="#7cc4dd" fill-opacity="0.46"/>
<circle cx="1151.4" cy="1763.6" r="7.4" fill="#7cc4dd" fill-opacity="0.46"/>
<circle cx="1151.4" cy="1787.6" r="7.4" fill="#7cc4dd" fill-opacity="0.46"/>
<circle cx="1175.5" cy="1763.6" r="7.4" fill="#7cc4dd" fill-opacity="0.46"/>
<circle cx="1175.5" cy="1787.6" r="7.4" fill="#7cc4dd" fill-opacity="0.46"/>
<circle cx="1199.6" cy="1763.6" r="7.4" fill="#7cc4dd" fill-opacity="0.46"/>
<circle cx="1199.6" cy="1787.6" r="7.4" fill="#7cc4dd" fill-opacity="0.46"/>
<circle cx="1223.6" cy="1763.6" r="7.4" fill="#7cc4dd" fill-opacity="0.46"/>
<circle cx="1223.6" cy="1787.6" r="7.4" fill="#7cc4dd" fill-opacity="0.46"/>
<circle cx="1199.6" cy="1739.6" r="7.4" fill="#7cc4dd" fill-opacity=".46"/>
<circle cx="1199.6" cy="1811.6" r="7.4" fill="#7cc4dd" fill-opacity=".46"/>
<circle cx="1246.4" cy="1775.6" r="7.4" fill="#7cc4dd" fill-opacity=".46"/>
<text class="ft" x="86.3" y="2150.2" xml:space="preserve">02 Cont_Let's Adv Eng 5.indd   2</text>
<text class="ft" x="1391.5" y="2150.2" xml:space="preserve">2019/1/15   11:58:04</text>
<path d="M387.6,349.3 L1183.6,349.3 A180,171.2 0 0 1 1363.6,520.5 L1363.6,520.5 C1421.37058,520.5 1468.2,559.8976 1468.2,608.5 A91,91 0 0 1 1418.5,690.2 A89.6,89.6 0 0 1 1419.5,851.0 A86.9,86.9 0 0 1 1423.4,1006.0 A87.2,87.2 0 0 1 1418.8,1161.7 A89.3,89.3 0 0 1 1420.6,1321.4 A89.6,89.6 0 0 1 1421.3,1480.2 A87.0,87.0 0 0 1 1421.3,1635.4 A91,91 0 0 1 1468.2,1717.7 C1468.2,1768.5116 1421.37058,1809.7 1363.6,1809.7 L1363.6,1812.8 A183,166 0 0 1 1180.6,1978.8 L367.6,1978.8 A155,190 0 0 1 212.6,1788.8 L212.6,1638.3 L194,1638.3 A70,80 0 0 1 124.0,1558.3 L124.0,558 A88,76 0 0 1 212.0,482 L218.2,482 A175,174 0 0 1 387.6,349.3 Z" fill="none" stroke="#0b5878" stroke-width="3" stroke-linejoin="miter"/>
</svg></body></html>
